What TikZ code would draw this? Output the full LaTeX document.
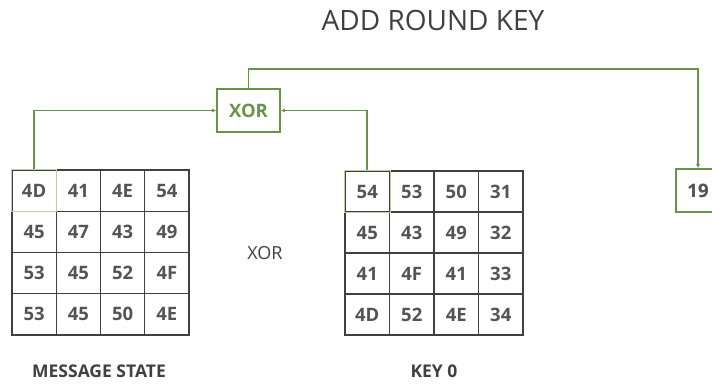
\documentclass[tikz,border=0pt]{standalone}
\usepackage{fontspec}
\setmainfont{Open Sans}
\usetikzlibrary{arrows.meta, positioning}
\definecolor{darkgreen}{RGB}{104,148,74}
\definecolor{darkgray}{RGB}{64,64,64}
\definecolor{cellgray}{RGB}{84,84,84}

\begin{document}
\begin{tikzpicture}[
  x=1pt, y=-1pt,
  cell/.style={
    draw=darkgray,
    line width=1.3pt,
    minimum width=44.25pt,
    minimum height=41.25pt,
    inner sep=0pt,
    text=cellgray,
    font=\fontsize{18.5}{20}\selectfont\bfseries
  },
  gatebox/.style={
    draw=darkgreen,
    line width=1.6pt,
    minimum width=63pt,
    minimum height=43pt,
    inner sep=0pt,
    text=darkgreen,
    font=\fontsize{18.5}{20}\selectfont\bfseries
  },
  caption/.style={text=darkgray, font=\fontsize{17.5}{20}\selectfont\bfseries},
  arrow/.style={-{Latex[length=4pt, width=4pt]}, line width=1.6pt, darkgreen}
]
\useasboundingbox (0,0) rectangle (712,385);

\node[text=darkgray, font=\fontsize{28}{32}\selectfont] (title) at (433,20) {ADD ROUND KEY};

% message state grid
\foreach \row [count=\j] in {{4D,41,4E,54},{45,47,43,49},{53,45,52,4F},{53,45,50,4E}}
  \foreach \val [count=\i] in \row
    \node[cell] (m\j\i) at ({12+44.25*(\i-0.5)},{170+41.25*(\j-0.5)}) {\val};

% key grid
\foreach \row [count=\j] in {{54,53,50,31},{45,43,49,32},{41,4F,41,33},{4D,52,4E,34}}
  \foreach \val [count=\i] in \row
    \node[cell] (k\j\i) at ({345+44.5*(\i-0.5)},{171+41*(\j-0.5)}) {\val};

\draw[darkgreen!45, line width=1pt] (m11.north west) rectangle (m11.south east);
\draw[darkgreen!45, line width=1pt] (k11.north west) rectangle (k11.south east);

\node[caption] (msglabel) at (99,371) {MESSAGE STATE};
\node[caption] (keylabel) at (434,371) {KEY 0};
\node[text=darkgray, font=\fontsize{18}{20}\selectfont] (op) at (265,253) {XOR};

\node[gatebox] (xor) at (248.5,110.5) {XOR};
\node[gatebox, minimum width=44pt] (out) at (698,190.5) {19};
\node[text=cellgray, font=\fontsize{18.5}{20}\selectfont\bfseries] at (out) {19};

\draw[arrow] (m11.north) |- (xor.west);
\draw[arrow] (k11.north) |- (xor.east);
\draw[arrow] (xor.north) -- ++(0,-19) -| (out.north);
\end{tikzpicture}
\end{document}
